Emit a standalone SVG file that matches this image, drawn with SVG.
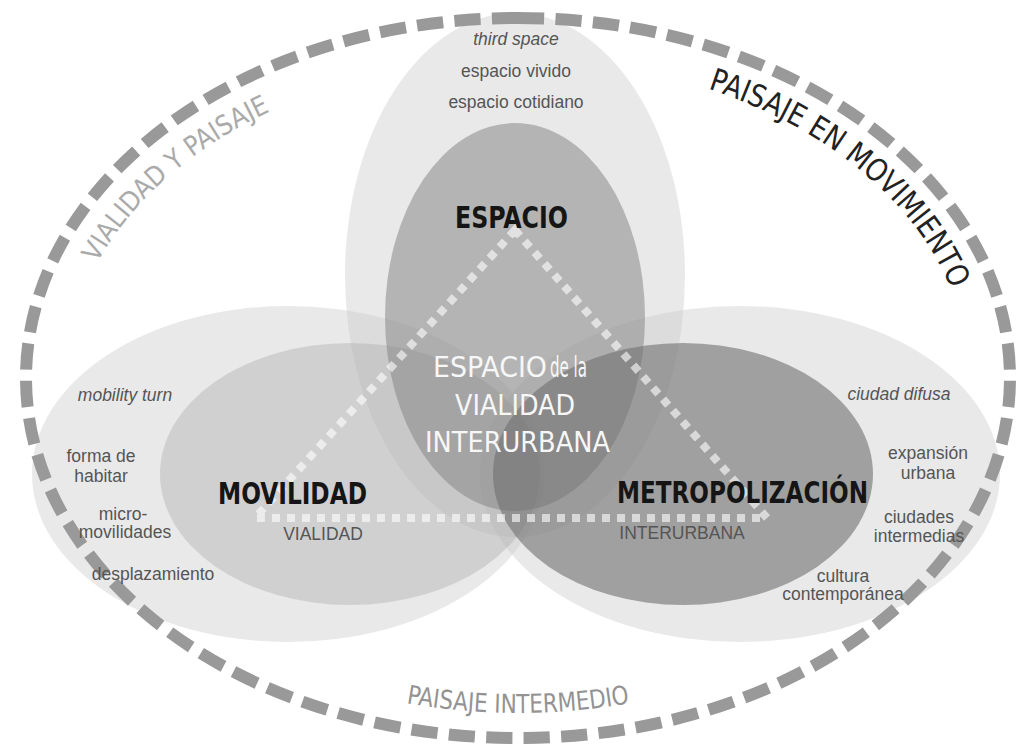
<svg xmlns="http://www.w3.org/2000/svg" width="1022" height="744" viewBox="0 0 1022 744">
<defs>
<style>
.cond{font-family:"Liberation Sans Narrow","DejaVu Sans Condensed","Liberation Sans",sans-serif;font-stretch:condensed}
.lbl{font-family:"Liberation Sans",Arial,sans-serif;font-size:17.5px;fill:#555;text-anchor:middle}
.it{font-style:italic}
.light{fill:#c8c8c8;fill-opacity:0.4}
.head{fill:#151515;font-size:31px;font-weight:bold}
.white{fill:#f7f7f7;font-size:28px}
</style>
<path id="arcTop" d="M 67 378 A 451 319 0 0 1 969 378"/>
<path id="arcBot" d="M 51 378 A 467 335 0 0 0 985 378"/>
</defs>
<rect width="1022" height="744" fill="#fff"/>

<g id="ellipses">
<ellipse id="espacio-outer" class="light" cx="515" cy="275" rx="170" ry="262"/>
<ellipse id="movilidad-outer" class="light" cx="288" cy="474" rx="256" ry="168"/>
<ellipse id="metro-outer" class="light" cx="740" cy="474" rx="260" ry="168"/>
<ellipse id="movilidad-inner" cx="350" cy="474" rx="190" ry="131" fill="#a0a0a0" fill-opacity="0.34"/>
<ellipse id="espacio-inner" cx="515" cy="317" rx="130" ry="194" fill="#808080" fill-opacity="0.5"/>
<ellipse id="metro-inner" cx="683" cy="474" rx="190" ry="131" fill="#707070" fill-opacity="0.6"/>
</g>

<g id="outer-boundary">
<path d="M 518 18 A 492 360 0 0 1 518 738 A 492 360 0 0 1 518 18 Z" fill="none" stroke="#999" stroke-width="12" pathLength="71.7" stroke-dasharray="0.7 0.3"/>
</g>

<g id="connectors">
<polygon points="515,230 255,518 767,518" fill="none" stroke="#fff" stroke-opacity="0.6" stroke-width="8" stroke-dasharray="8 7"/>
</g>

<g id="node-espacio">
<text class="cond head" x="455" y="228" font-size="32" textLength="113" lengthAdjust="spacingAndGlyphs">ESPACIO</text>
<text class="lbl it" x="516" y="45">third space</text>
<text class="lbl" x="516" y="77">espacio vivido</text>
<text class="lbl" x="516" y="108">espacio cotidiano</text>
</g>

<g id="node-movilidad">
<text class="cond head" x="218" y="504" textLength="149" lengthAdjust="spacingAndGlyphs">MOVILIDAD</text>
<text class="lbl" x="323" y="540">VIALIDAD</text>
<text class="lbl it" x="125" y="401">mobility turn</text>
<text class="lbl" x="101" y="462">forma de</text>
<text class="lbl" x="101" y="482">habitar</text>
<text class="lbl" x="123" y="520">micro-</text>
<text class="lbl" x="125" y="538">movilidades</text>
<text class="lbl" x="153" y="580">desplazamiento</text>
</g>

<g id="node-metropolizacion">
<text class="cond head" transform="translate(617 503) scale(0.8 1)" x="0" y="0" textLength="313.75" lengthAdjust="spacingAndGlyphs">METROPOLIZACIÓN</text>
<text class="lbl" x="682" y="539">INTERURBANA</text>
<text class="lbl it" x="899" y="400">ciudad difusa</text>
<text class="lbl" x="928" y="459">expansión</text>
<text class="lbl" x="928" y="479">urbana</text>
<text class="lbl" x="919" y="523">ciudades</text>
<text class="lbl" x="919" y="542">intermedias</text>
<text class="lbl" x="843" y="582">cultura</text>
<text class="lbl" x="843" y="600">contemporánea</text>
</g>

<g id="node-centro">
<text class="cond white" x="433" y="377" textLength="114" lengthAdjust="spacingAndGlyphs">ESPACIO</text>
<text class="cond white" x="550" y="377" font-size="18" textLength="37" lengthAdjust="spacingAndGlyphs">de la</text>
<text class="cond white" x="455" y="415" textLength="120" lengthAdjust="spacingAndGlyphs">VIALIDAD</text>
<text class="cond white" x="425" y="452" textLength="185" lengthAdjust="spacingAndGlyphs">INTERURBANA</text>
</g>

<g id="landscape-labels">
<text class="cond" font-size="27" fill="#aaa"><textPath href="#arcTop" startOffset="120" textLength="234" lengthAdjust="spacingAndGlyphs">VIALIDAD Y PAISAJE</textPath></text>
<text class="cond" font-size="31" fill="#222"><textPath href="#arcTop" startOffset="802" textLength="325" lengthAdjust="spacingAndGlyphs">PAISAJE EN MOVIMIENTO</textPath></text>
<text class="cond" font-size="26" fill="#939393" text-anchor="middle"><textPath href="#arcBot" startOffset="50%" textLength="225" lengthAdjust="spacingAndGlyphs">PAISAJE INTERMEDIO</textPath></text>
</g>
</svg>
